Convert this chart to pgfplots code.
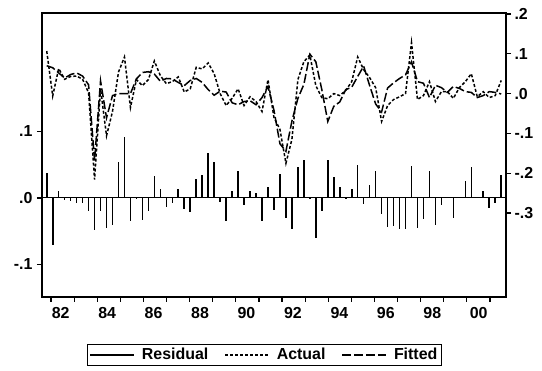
\documentclass[border=0pt]{standalone}
\usepackage{pgfplots}
\pgfplotsset{compat=1.18}
\usepackage{pgfplotstable}
\usepackage{fontspec}
\setmainfont{Liberation Sans}

\pgfplotstableread{
i A F R
0 0.107 0.070 0.037
1 -0.006 0.065 -0.071
2 0.063 0.052 0.011
3 0.036 0.039 -0.003
4 0.043 0.048 -0.005
5 0.044 0.052 -0.008
6 0.036 0.044 -0.008
7 0.002 0.022 -0.020
8 -0.216 -0.168 -0.048
9 0.012 0.032 -0.020
10 -0.106 -0.061 -0.045
11 -0.045 -0.005 -0.040
12 0.054 0.000 0.054
13 0.092 0.000 0.092
14 -0.035 0.000 -0.035
15 0.035 0.037 -0.002
16 0.020 0.053 -0.033
17 0.035 0.055 -0.020
18 0.082 0.049 0.033
19 0.045 0.031 0.014
20 0.025 0.038 -0.013
21 0.030 0.037 -0.007
22 0.042 0.028 0.014
23 0.004 0.020 -0.016
24 0.012 0.033 -0.021
25 0.066 0.038 0.028
26 0.062 0.028 0.034
27 0.077 0.010 0.068
28 0.050 -0.004 0.054
29 0.000 0.006 -0.006
30 -0.030 0.004 -0.034
31 -0.012 -0.023 0.011
32 0.012 -0.028 0.040
33 -0.030 -0.020 -0.010
34 -0.008 -0.018 0.010
35 -0.020 -0.028 0.008
36 -0.045 -0.010 -0.035
37 0.035 0.018 0.017
38 -0.060 -0.042 -0.018
39 -0.090 -0.126 0.036
40 -0.175 -0.145 -0.030
41 -0.115 -0.069 -0.046
42 0.035 -0.012 0.047
43 0.080 0.023 0.057
44 0.097 0.099 -0.002
45 0.020 0.080 -0.060
46 -0.010 0.010 -0.020
47 -0.013 -0.070 0.057
48 0.000 -0.032 0.032
49 -0.005 -0.021 0.016
50 0.008 0.010 -0.002
51 0.030 0.016 0.014
52 0.092 0.043 0.049
53 0.060 0.069 -0.009
54 0.040 0.020 0.020
55 0.015 -0.026 0.041
56 -0.070 -0.046 -0.024
57 -0.030 0.014 -0.044
58 -0.015 0.027 -0.042
59 -0.008 0.038 -0.046
60 0.000 0.047 -0.047
61 0.128 0.080 0.048
62 -0.015 0.030 -0.045
63 -0.005 0.026 -0.031
64 0.030 -0.010 0.040
65 -0.020 0.021 -0.041
66 0.005 0.015 -0.010
67 0.005 0.003 0.002
68 -0.012 0.018 -0.030
69 0.015 0.013 0.002
70 0.030 0.005 0.025
71 0.050 0.003 0.047
72 -0.008 -0.010 0.002
73 0.005 -0.005 0.010
74 -0.010 0.005 -0.015
75 -0.005 0.003 -0.008
76 0.033 -0.001 0.034
}\data

\begin{document}
\begin{tikzpicture}[font=\fontsize{16}{19}\selectfont\bfseries]
\useasboundingbox (0,0) rectangle (542bp,371bp);
\pgfplotsset{
  common/.style={
    at={(42bp,74bp)}, anchor=south west, scale only axis,
    width=464bp, height=284bp,
    xmin=-0.79, xmax=76.8,
    tick align=outside, major tick length=5bp,
    tick style={black, line width=1.1bp},
    axis line style={black, line width=1.6bp},
  }
}
\begin{axis}[common,
  ymin=-0.1489, ymax=0.2782,
  ytick={-0.1,0,0.1}, yticklabels={-.1,.0,.1},
  ytick pos=left,
  xtick={0.72,4.58,8.45,12.31,16.17,20.04,23.90,27.76,31.62,35.49,39.35,43.21,47.08,50.94,54.80,58.66,62.53,66.39,70.25,74.12},
  xticklabels={},
  xtick pos=bottom,
  extra x ticks={2.34,10.11,17.87,25.64,33.40,41.17,48.94,56.70,64.47,72.23},
  extra x tick labels={82,84,86,88,90,92,94,96,98,00},
  extra x tick style={major tick length=0pt, xticklabel style={yshift=-7bp}},
  yticklabel style={xshift=-1bp},
]
\addplot[black, line width=1bp] coordinates {(-0.79,0) (76.8,0)};
\addplot[ycomb, black, line width=1.6bp] table[x=i, y=R]{\data};
\end{axis}
\begin{axis}[common,
  ymin=-0.511, ymax=0.2025,
  axis y line*=right, axis x line=none,
  ytick={-0.3,-0.2,-0.1,0,0.1,0.2},
  yticklabels={-.3,-.2,-.1,.0,.1,.2},
  legend style={at={(0.4795,-0.204)}, anchor=center, legend columns=3,
    draw=black, line width=1.2bp, inner sep=2bp,
    font=\fontsize{16}{19}\selectfont\bfseries,
    /tikz/every odd column/.append style={column sep=5bp},
    /tikz/every even column/.append style={column sep=14bp}},
  legend image code/.code={\draw[#1] (0bp,0bp) -- (44bp,0bp);},
]
\addlegendimage{black, line width=1.3bp}
\addlegendentry{Residual}
\addplot[black, line width=1.5bp, dash pattern=on 3bp off 2bp] table[x=i, y=A]{\data};
\addlegendentry{Actual}
\addplot[black, line width=1.5bp, dash pattern=on 9bp off 3bp] table[x=i, y=F]{\data};
\addlegendentry{Fitted}
\end{axis}
\end{tikzpicture}
\end{document}
